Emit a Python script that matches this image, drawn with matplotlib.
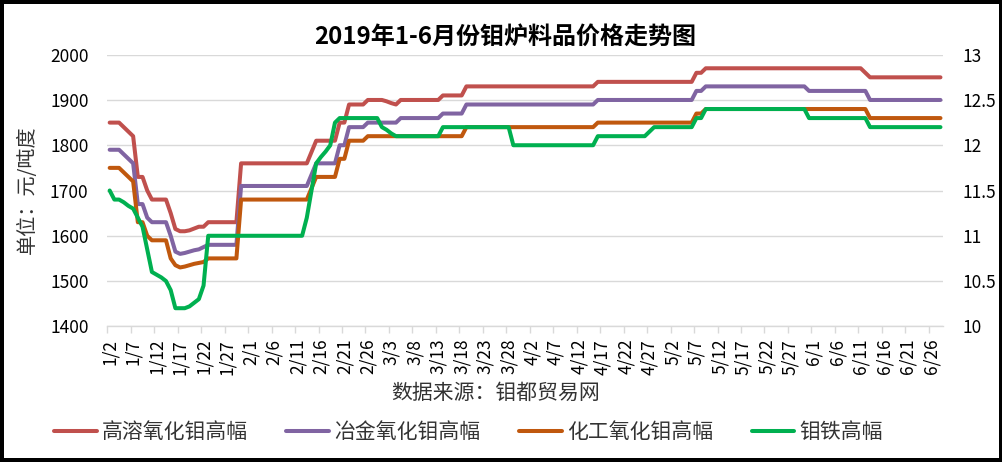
import matplotlib
matplotlib.use('Agg')
import matplotlib.pyplot as plt
import numpy as np
import pandas as pd
from matplotlib.ticker import FixedLocator, FuncFormatter

plt.rcParams['font.family'] = ['Noto Sans CJK SC', 'DejaVu Sans']

# ---- data ----
dates = pd.date_range('2019-01-02', '2019-06-28', freq='D')
date_labels = [f"{d.month}/{d.day}" for d in dates]

# 高溶氧化钼高幅 (元/吨度, left axis)
high_sol_moo3 = ([1850] * 3 + [1840, 1830, 1820] + [1730] * 2 + [1700] + [1680] * 4 +
                 [1650, 1615] + [1610] * 2 + [1612, 1616, 1620, 1620] + [1630] * 7 +
                 [1760] * 15 + [1785] + [1810] * 5 + [1850] * 2 + [1890] * 4 +
                 [1900] * 4 + [1897, 1893, 1890] + [1900] * 9 + [1910] * 5 +
                 [1930] * 28 + [1940] * 21 + [1960] * 2 + [1970] * 34 + [1960] +
                 [1950] * 16)

# 冶金氧化钼高幅 (left axis)
met_moo3 = ([1790] * 3 + [1780, 1770, 1760] + [1670] * 2 + [1640] + [1630] * 4 +
            [1600, 1565] + [1560, 1562, 1565, 1568, 1570, 1575] + [1580] * 7 +
            [1710] * 15 + [1735] + [1760] * 5 + [1800] * 2 + [1840] * 4 +
            [1850] * 7 + [1860] * 9 + [1870] * 5 + [1890] * 28 + [1900] * 21 +
            [1920] * 2 + [1930] * 22 + [1920] * 13 + [1900] * 16)

# 化工氧化钼高幅 (left axis)
chem_moo3 = ([1750] * 3 + [1740, 1730, 1720] + [1630] * 2 + [1600] + [1590] * 4 +
             [1550, 1535] + [1530, 1532, 1535, 1538, 1540, 1542] + [1550] * 7 +
             [1680] * 15 + [1705] + [1730] * 5 + [1770] * 2 + [1810] * 4 +
             [1820] * 21 + [1840] * 28 + [1850] * 21 + [1870] * 2 + [1880] * 35 +
             [1860] * 16)

# 钼铁高幅 (万元/吨, right axis)
femo = ([11.5] + [11.4] * 2 + [11.37, 11.33, 11.3, 11.2, 11.1, 10.85] +
        [10.6, 10.57, 10.54, 10.5, 10.4] + [10.2] * 3 + [10.22, 10.26, 10.3, 10.45] +
        [11.0] * 21 + [11.2, 11.5, 11.8, 11.87, 11.93, 12.0, 12.25] + [12.3] * 9 +
        [12.2, 12.17, 12.13] + [12.1] * 10 + [12.2] * 15 + [12.0] * 18 +
        [12.1] * 11 + [12.15] + [12.2] * 9 + [12.3] * 2 + [12.4] * 22 +
        [12.3] * 13 + [12.2] * 16)

series_names = ['高溶氧化钼高幅', '冶金氧化钼高幅', '化工氧化钼高幅', '钼铁高幅']
colors = ['#C0504D', '#8064A2', '#C0580E', '#00B050']

left_ticks = [1400, 1500, 1600, 1700, 1800, 1900, 2000]
right_ticks = [10, 10.5, 11, 11.5, 12, 12.5, 13]

title = '2019年1-6月份钼炉料品价格走势图'
ylabel = '单位：元/吨度'
source = '数据来源：钼都贸易网'

# ---- figure ----
fig = plt.figure(figsize=(10.03, 4.62), dpi=100)
fig.patch.set_facecolor('white')
fig.patch.set_edgecolor('black')
fig.patch.set_linewidth(4.5)

ax = fig.add_axes([0.107, 0.2937, 0.833, 0.5879])
x = np.arange(len(dates))

lw = 2.9
lines = []
for vals, c, n in zip([high_sol_moo3, met_moo3, chem_moo3], colors[:3], series_names[:3]):
    l, = ax.plot(x, vals, color=c, lw=lw, label=n,
                 solid_joinstyle='round', solid_capstyle='round')
    lines.append(l)

ax2 = ax.twinx()
l, = ax2.plot(x, femo, color=colors[3], lw=lw, label=series_names[3],
              solid_joinstyle='round', solid_capstyle='round')
lines.append(l)

ax.set_xlim(-0.5, len(dates) - 0.5)
ax.set_ylim(1400, 2000)
ax2.set_ylim(10, 13)

ax.set_yticks(left_ticks)
ax2.set_yticks(right_ticks)
ax2.yaxis.set_major_formatter(FuncFormatter(lambda v, p: f"{v:g}"))

ax.set_xticks(x[::5])
ax.set_xticklabels(date_labels[::5], rotation=90)
ax.xaxis.set_minor_locator(FixedLocator(np.arange(-0.5, len(dates), 5)))
ax.tick_params(axis='x', which='major', length=0, pad=9, labelsize=12.5)
ax.tick_params(axis='x', which='minor', length=5, width=1, color='#D9D9D9')
ax.tick_params(axis='y', length=0, pad=13.5, labelsize=12.5)
ax2.tick_params(axis='y', length=0, pad=14, labelsize=12.5)

ax.yaxis.grid(True, color='#D9D9D9', lw=1)
ax.set_axisbelow(True)
for s in ['top', 'left', 'right']:
    ax.spines[s].set_visible(False)
ax.spines['bottom'].set_color('#D9D9D9')
ax.spines['bottom'].set_linewidth(1)
for s in ax2.spines.values():
    s.set_visible(False)

fig.text(0.504, 0.918, title, ha='center', va='center', fontsize=17.3, fontweight='bold')
fig.text(0.027, 0.589, ylabel, ha='center', va='center', rotation=90, fontsize=14.5,
         color='#333333')
fig.text(0.494, 0.149, source, ha='center', va='center', fontsize=15, color='#333333')

leg = fig.legend(lines, series_names, loc='center', bbox_to_anchor=(0.467, 0.065),
                 ncol=4, frameon=False, fontsize=15, handlelength=2.05,
                 handletextpad=0.25, columnspacing=1.85)
for t in leg.get_texts():
    t.set_color('#333333')

fig.savefig('out.png', dpi=100, facecolor=fig.get_facecolor(), edgecolor=fig.get_edgecolor())
